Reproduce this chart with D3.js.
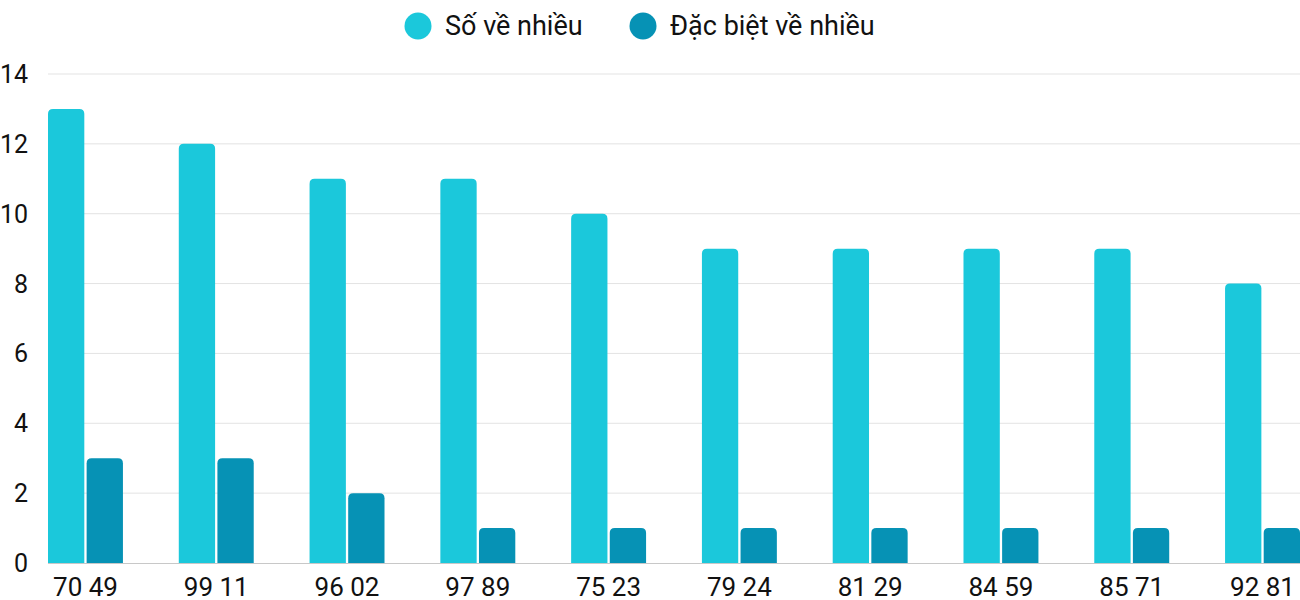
<!DOCTYPE html>
<html><head><meta charset="utf-8">
<script src="https://cdn.jsdelivr.net/npm/d3@7"></script>
<style>
html,body{margin:0;padding:0;background:#fff;}
text{font-family:Roboto,"Noto Sans",sans-serif;fill:#111;}
</style></head>
<body><svg id="c" width="1300" height="600"></svg>
<script>
const categories = ["70 49","99 11","96 02","97 89","75 23","79 24","81 29","84 59","85 71","92 81"];
const soVeNhieu = [13,12,11,11,10,9,9,9,9,8];
const dacBiet = [3,3,2,1,1,1,1,1,1,1];
const seriesNames = ["Số về nhiều","Đặc biệt về nhiều"];
const colors = ["#1BC8DB","#0692B5"];
const yTicks = [0,2,4,6,8,10,12,14];

(function(){
const svg = d3.select("#c");
const mLeft = 48, mRight = 1300, mTop = 74, mBottom = 563;
const x = d3.scaleBand().domain(categories).range([mLeft, mRight]).paddingInner(0.427).paddingOuter(0);
const xs = d3.scaleBand().domain([0,1]).range([0, x.bandwidth()]).paddingInner(0.06);
const y = d3.scaleLinear().domain([0,14]).range([mBottom, mTop]);

// grid
svg.append("g").selectAll("line").data(yTicks.filter(d=>d>0)).join("line")
  .attr("x1", mLeft).attr("x2", mRight).attr("y1", d=>y(d)).attr("y2", d=>y(d))
  .attr("stroke", "#e3e3e3").attr("stroke-width", 1);

// y labels
svg.append("g").selectAll("text").data(yTicks).join("text")
  .attr("x", 28).attr("y", d=>y(d)).attr("dy","0.36em").attr("text-anchor","end")
  .attr("font-size", 25).text(d=>d);

function barPath(x0, w, y0, y1, r){
  r = Math.min(r, w/2, y0-y1);
  return `M${x0},${y0}L${x0},${y1+r}Q${x0},${y1} ${x0+r},${y1}L${x0+w-r},${y1}Q${x0+w},${y1} ${x0+w},${y1+r}L${x0+w},${y0}Z`;
}

const series = [soVeNhieu, dacBiet];
series.forEach((vals, si) => {
  svg.append("g").selectAll("path").data(vals).join("path")
    .attr("d", (d,i) => barPath(x(categories[i]) + xs(si), xs.bandwidth(), y(0), y(d), 5))
    .attr("fill", colors[si]);
});

// baseline
svg.append("line").attr("x1", mLeft).attr("x2", mRight).attr("y1", y(0)+0.5).attr("y2", y(0)+0.5)
  .attr("stroke", "#c8c8c8").attr("stroke-width", 1);

// x labels
svg.append("g").selectAll("text").data(categories).join("text")
  .attr("x", d => x(d) + x.bandwidth()/2).attr("y", 596).attr("text-anchor","middle")
  .attr("font-size", 26).text(d=>d);

// legend
const legendX = [418, 643];
seriesNames.forEach((n, i) => {
  svg.append("circle").attr("cx", legendX[i]).attr("cy", 26).attr("r", 13.5).attr("fill", colors[i]);
  svg.append("text").attr("x", legendX[i] + 27).attr("y", 35).attr("font-size", 27).text(n);
});
})();
</script></body></html>
